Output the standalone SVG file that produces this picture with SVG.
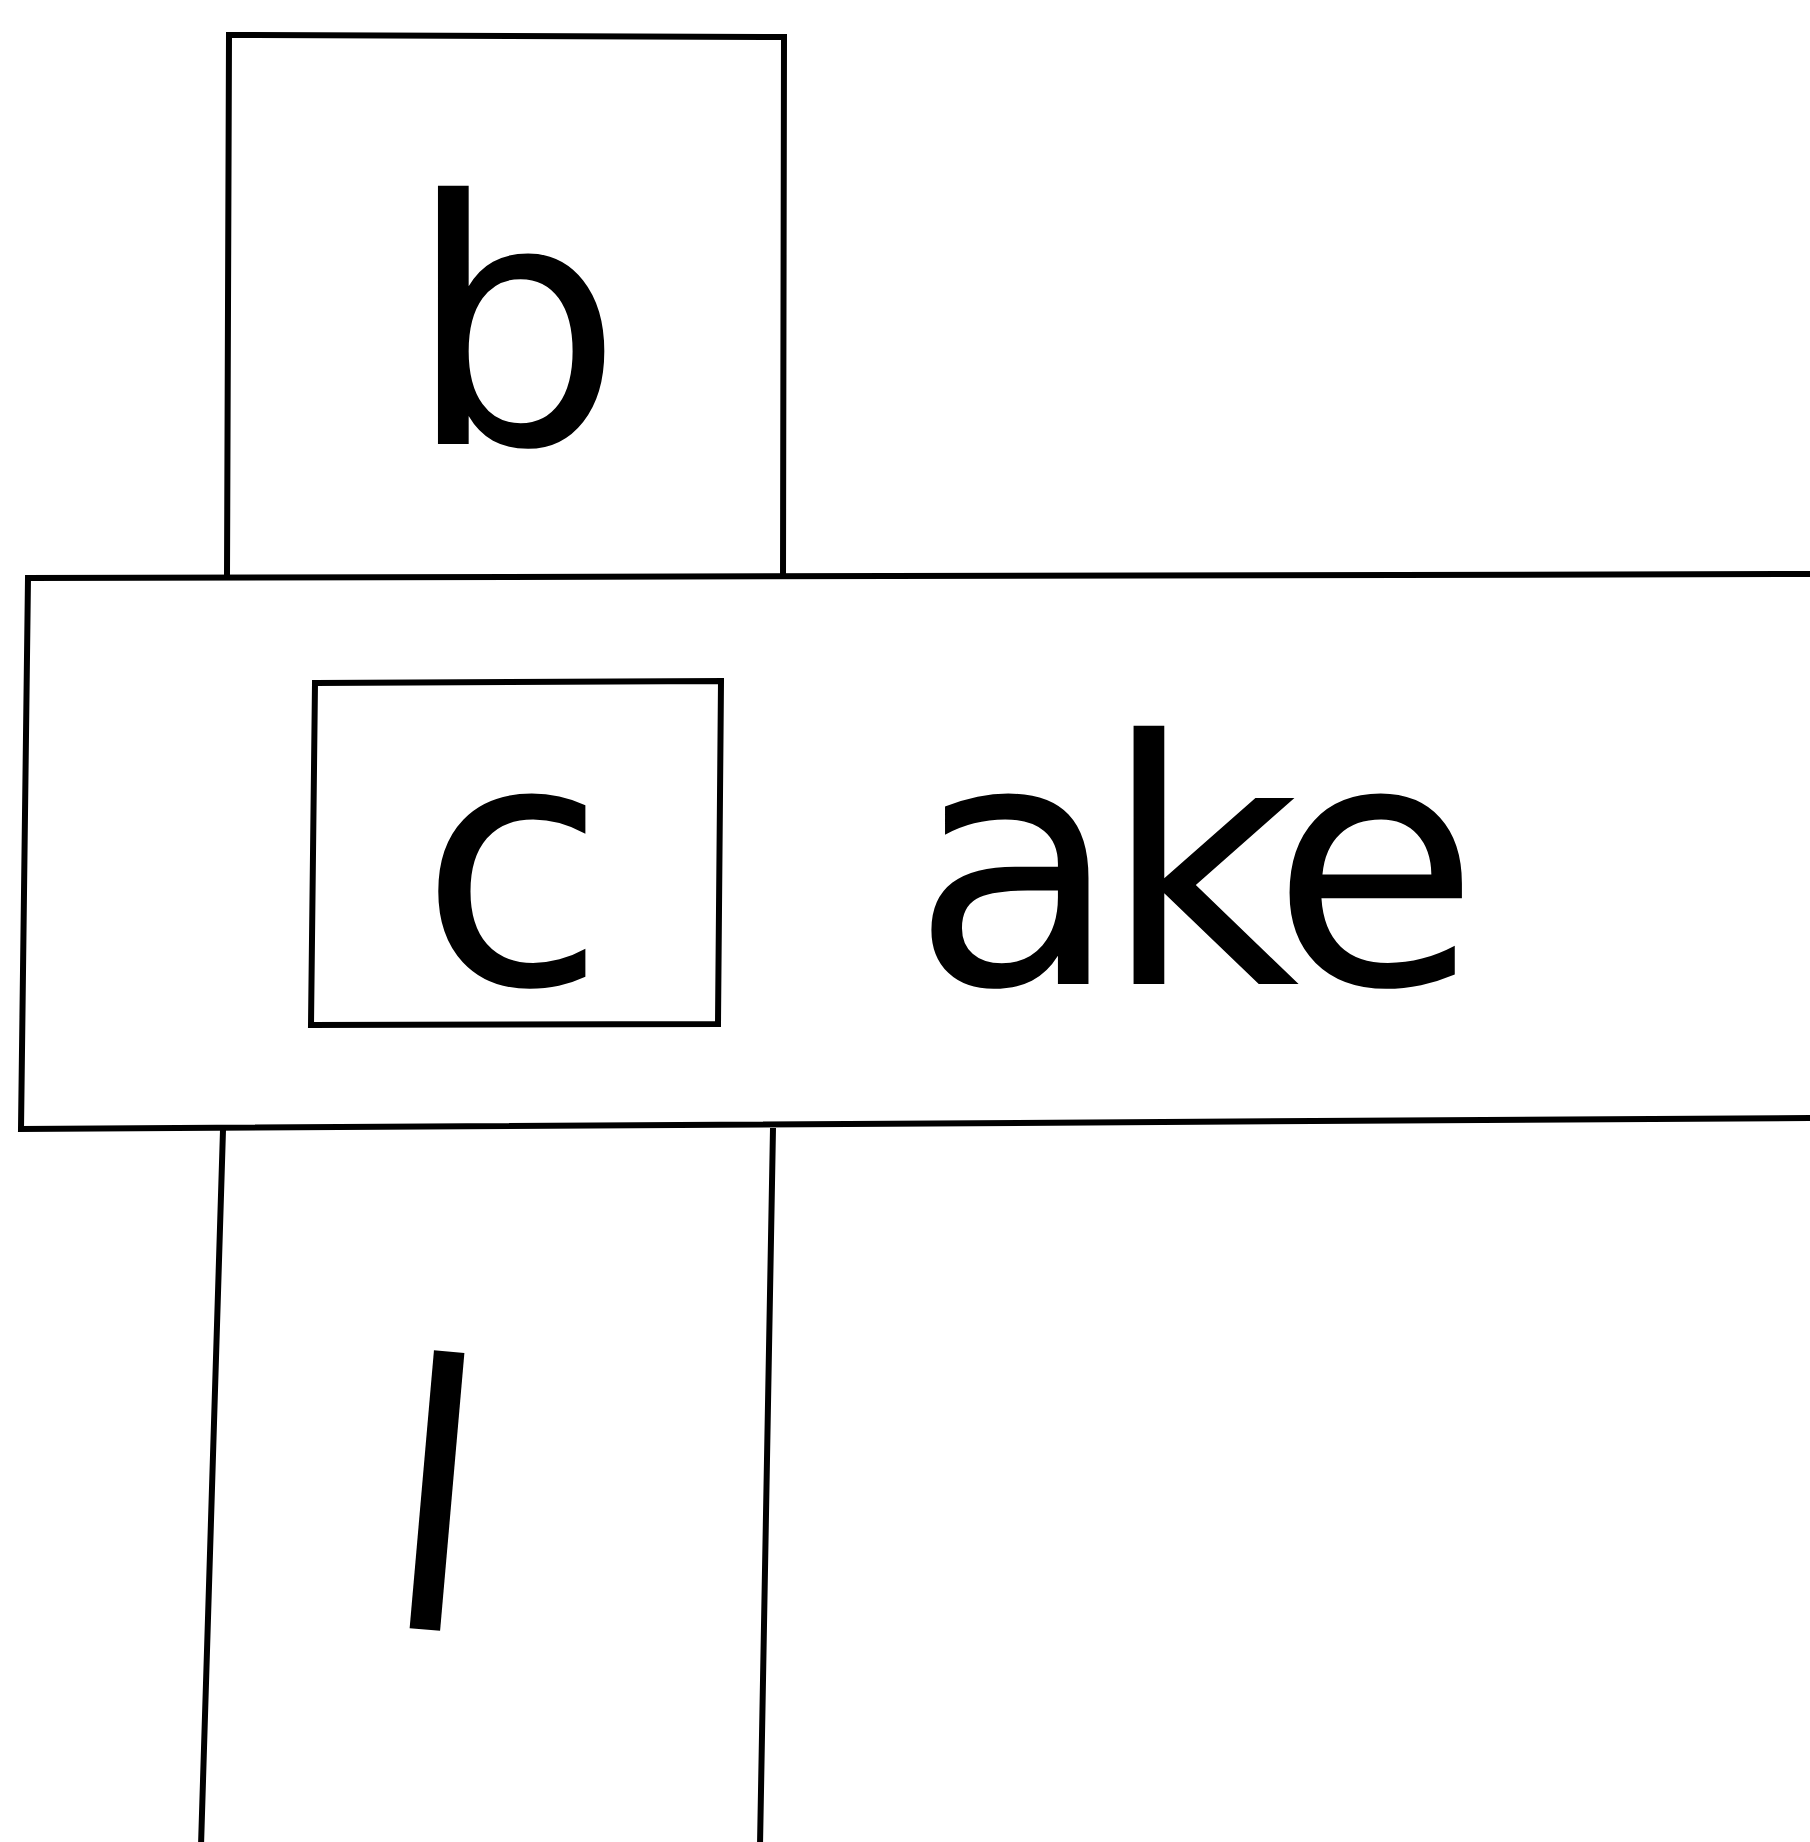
<svg xmlns="http://www.w3.org/2000/svg" width="1810" height="1842" viewBox="0 0 1810 1842">
<style>
.box{fill:none;stroke:#000;stroke-width:6;stroke-linejoin:miter}
.lt{font-family:"DejaVu Sans","Liberation Sans",sans-serif;font-size:340px;fill:#000}
</style>
<rect width="1810" height="1842" fill="#fff"/>
<g id="node-b">
<path class="box" d="M227,577 L229,35 L784,37 L783,577"/>
<text class="lt" x="515" y="444" text-anchor="middle">b</text>
</g>
<g id="node-cake">
<path class="box" d="M1815,574 L28,578 L21,1129 L1815,1118"/>
<g id="node-c">
<path class="box" d="M315,683 L721,681 L718,1024 L311,1025 Z"/>
<text class="lt" x="513" y="984" text-anchor="middle">c</text>
</g>
<text class="lt" x="911" y="984" textLength="569" lengthAdjust="spacing">ake</text>
</g>
<g id="node-l">
<path class="box" d="M223,1130 L201,1846 M773,1128 L760,1846"/>
<text class="lt" x="437" y="1630" text-anchor="middle" transform="rotate(5 437 1490) translate(437 1630) scale(1 1.08) translate(-437 -1630)">l</text>
</g>
</svg>
